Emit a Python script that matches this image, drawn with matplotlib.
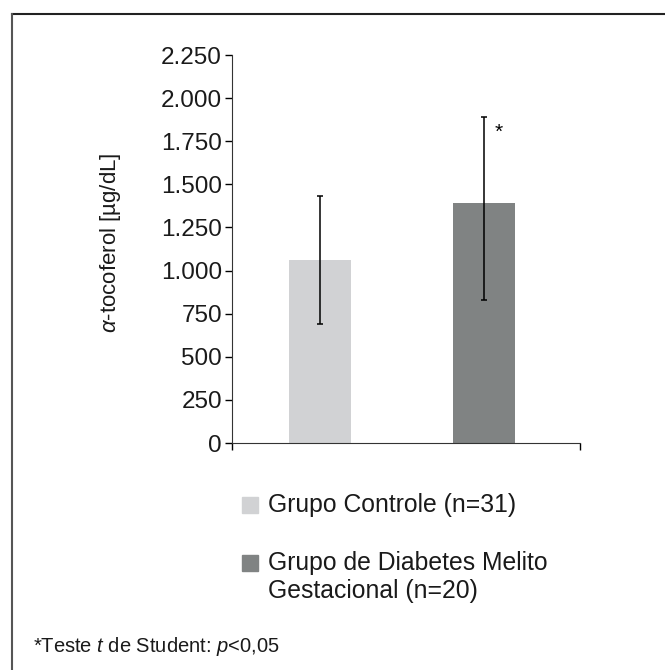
import matplotlib
matplotlib.use('Agg')
import matplotlib.pyplot as plt
from matplotlib.lines import Line2D
from matplotlib.patches import Rectangle
from matplotlib.ticker import FuncFormatter

plt.rcParams['font.family'] = ['Liberation Sans', 'DejaVu Sans']
plt.rcParams['mathtext.fontset'] = 'custom'
plt.rcParams['mathtext.rm'] = 'Liberation Sans'
plt.rcParams['mathtext.it'] = 'Liberation Sans:italic'

# dados
grupos = ['Grupo Controle (n=31)', 'Grupo de Diabetes Melito\nGestacional (n=20)']
medias = [1061, 1390]
erro_inf = [373, 561]
erro_sup = [373, 499]
cores = ['#d1d2d4', '#808383']
yticks = [0, 250, 500, 750, 1000, 1250, 1500, 1750, 2000, 2250]

W, H = 665, 670
fig = plt.figure(figsize=(W / 100, H / 100), dpi=100)
ax = fig.add_axes([0.3484, 0.3388, 0.5236, 0.5791])

x = [0, 1]
ax.bar(x, medias, width=0.376, color=cores, zorder=2)
ax.errorbar(x, medias, yerr=[erro_inf, erro_sup], fmt='none', ecolor='black', elinewidth=1.1,
            capsize=2.3, capthick=1.1, zorder=3)
# asterisco de significancia
ax.text(1.088, 1800, '*', fontsize=15, ha='center', va='center')

ax.set_xlim(-0.538, 1.585)
ax.set_ylim(0, 2250)
ax.set_yticks(yticks)
ax.yaxis.set_major_formatter(FuncFormatter(lambda v, p: f'{int(v):,}'.replace(',', '.')))
ax.tick_params(axis='y', labelsize=17.5, length=5, width=1, direction='out', pad=2,
               labelcolor='#1a1a1a')
ax.set_xticks([-0.538, 1.585])
ax.set_xticklabels([])
ax.tick_params(axis='x', length=5, width=1, direction='out')
for s in ['top', 'right']:
    ax.spines[s].set_visible(False)
ax.spines['left'].set_color('#333333')
ax.spines['bottom'].set_color('#333333')
ax.set_ylabel(r'$\alpha$-tocoferol [µg/dL]', fontsize=16, color='#1a1a1a')
ax.yaxis.set_label_coords(-0.312, 0.515)

# legenda (quadrado alinhado com a primeira linha do texto)
leg_y = [505, 563]
for cor, nome, yy in zip(cores, grupos, leg_y):
    fig.add_artist(Rectangle((242 / W, 1 - (yy + 8) / H), 16 / W, 16 / H,
                             transform=fig.transFigure, color=cor))
    fig.text(268 / W, 1 - (yy - 12) / H, nome, fontsize=17.8, va='top', ha='left',
             linespacing=1.2, color='#1a1a1a')

fig.text(33 / W, 1 - 647 / H, r'*Teste $t$ de Student: $p$<0,05', fontsize=14.5,
         va='center', color='#1a1a1a')

# moldura
fig.add_artist(Line2D([12 / W, 1], [1 - 13.5 / H, 1 - 13.5 / H], color='#222222', lw=1.5))
fig.add_artist(Line2D([12 / W, 12 / W], [0, 1 - 13.5 / H], color='#555555', lw=1.5))

fig.savefig('out.png', dpi=100)
